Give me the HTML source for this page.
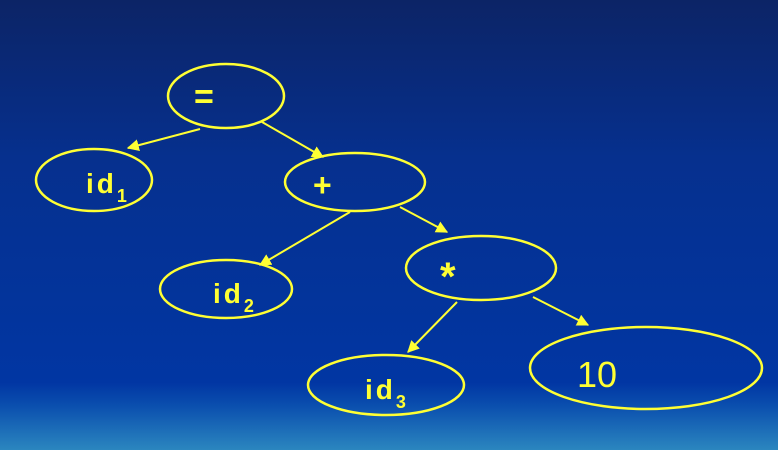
<!DOCTYPE html>
<html><head><meta charset="utf-8"><style>
html,body{margin:0;padding:0;width:778px;height:450px;overflow:hidden}
svg{display:block}
text{font-family:"Liberation Sans",sans-serif;fill:#ffff33;font-weight:bold}
</style></head><body>
<svg width="778" height="450" viewBox="0 0 778 450">
<defs>
<linearGradient id="bg" x1="0" y1="0" x2="0" y2="1">
<stop offset="0" stop-color="#0c2466"/>
<stop offset="0.35" stop-color="#06308e"/>
<stop offset="0.85" stop-color="#0136a3"/>
<stop offset="0.9" stop-color="#0a4eae"/>
<stop offset="1" stop-color="#2b86bf"/>
</linearGradient>
<marker id="ah" viewBox="0 0 10 10" refX="9" refY="5" markerWidth="6" markerHeight="6" orient="auto">
<path d="M0,0 L10,5 L0,10 z" fill="#ffff33"/>
</marker>
</defs>
<rect width="778" height="450" fill="url(#bg)"/>
<g fill="none" stroke="#ffff33" stroke-width="2.5">
<ellipse cx="226" cy="96" rx="58" ry="32"/>
<ellipse cx="94" cy="180" rx="58" ry="31"/>
<ellipse cx="355" cy="182" rx="70" ry="29"/>
<ellipse cx="226" cy="289" rx="66" ry="29"/>
<ellipse cx="481" cy="268" rx="75" ry="32"/>
<ellipse cx="386" cy="385" rx="78" ry="30"/>
<ellipse cx="646" cy="368" rx="116" ry="41"/>
</g>
<g stroke="#ffff33" stroke-width="2" marker-end="url(#ah)">
<line x1="200" y1="129" x2="128" y2="148"/>
<line x1="262" y1="122" x2="323" y2="157"/>
<line x1="350" y1="212" x2="260" y2="265"/>
<line x1="400" y1="207" x2="447" y2="232"/>
<line x1="457" y1="302" x2="408" y2="352"/>
<line x1="533" y1="297" x2="588" y2="325"/>
</g>
<text x="194" y="108" font-size="34">=</text>
<text x="86" y="193" font-size="28" letter-spacing="3">id<tspan font-size="18" dy="9">1</tspan></text>
<text x="313" y="196" font-size="32">+</text>
<text x="213" y="303" font-size="28" letter-spacing="3">id<tspan font-size="18" dy="9">2</tspan></text>
<text x="440" y="290" font-size="40">*</text>
<text x="365" y="399" font-size="28" letter-spacing="3">id<tspan font-size="18" dy="9">3</tspan></text>
<text x="577" y="387" font-size="36" style="font-weight:normal">10</text>
</svg>
</body></html>
